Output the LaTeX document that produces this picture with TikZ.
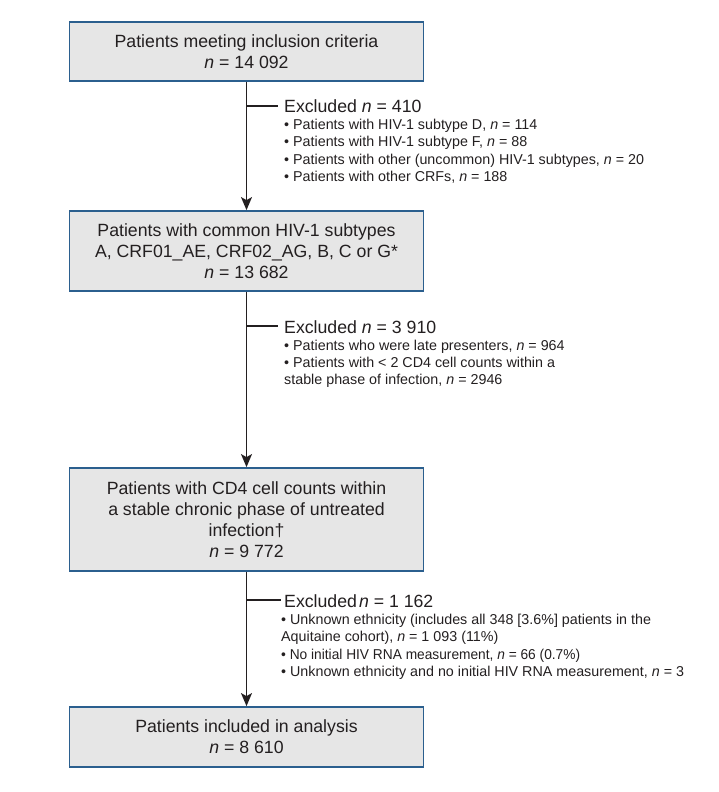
\documentclass[tikz,border=0pt]{standalone}
\usepackage{fontspec}
\usepackage{graphicx}
\setmainfont{Liberation Sans}
\usetikzlibrary{arrows.meta}
\definecolor{boxblue}{HTML}{2B5F8E}
\definecolor{boxfill}{HTML}{E6E6E6}
\definecolor{ink}{HTML}{231F20}
\begin{document}
\begin{tikzpicture}[x=1pt,y=-1pt,
  box/.style={draw=boxblue, line width=1.8pt, fill=boxfill, minimum width=354pt, align=center, inner sep=0pt, text=ink, font=\fontsize{17.7}{21.2}\selectfont},
  head/.style={anchor=base west, inner sep=0pt, text=ink, font=\fontsize{17.7}{21}\selectfont},
  list/.style={anchor=north west, inner sep=0pt, align=left, text=ink, font=\fontsize{14.3}{17.3}\selectfont},
  flow/.style={draw=ink, line width=1.3pt},
  tip/.style={-{Stealth[length=13pt,width=11pt,inset=3pt]}}
]
\useasboundingbox (0,0) rectangle (718,792);
\node[box, minimum height=59pt] (b1) at (246.5,51.5) {Patients meeting inclusion criteria\\\textit{n} = 14~092};
\node[box, minimum height=80pt] (b2) at (246.5,251) {Patients with common HIV-1 subtypes\\A, CRF01\_AE, CRF02\_AG, B, C or G*\\\textit{n} = 13~682};
\node[box, minimum height=103pt] (b3) at (246.5,519.5) {Patients with CD4 cell counts within\\a stable chronic phase of untreated\\infection†\\\textit{n} = 9~772};
\node[box, minimum height=60pt] (b4) at (246.5,737) {Patients included in analysis\\\textit{n} = 8~610};

\node[head] (h1) at (284,112.5) {Excluded \textit{n} = 410};
\node[list] (l1) at (284,119.1) {• Patients with HIV-1 subtype D, \textit{n} = 114\\• Patients with HIV-1 subtype F, \textit{n} = 88\\• Patients with other (uncommon) HIV-1 subtypes, \textit{n} = 20\\• Patients with other CRFs, \textit{n} = 188};

\node[head] (h2) at (284,333.3) {Excluded \textit{n} = 3~910};
\node[list] (l2) at (284,339.6) {• Patients who were late presenters, \textit{n} = 964\\• Patients with < 2 CD4 cell counts within a\\stable phase of infection, \textit{n} = 2946};

\node[head] (h3) at (284,607.3) {Excluded\hspace{2pt}\textit{n} = 1~162};
\node[list] (l3) at (281,614) {• Unknown ethnicity (includes all 348 [3.6\%] patients in the\\Aquitaine cohort), \textit{n} = 1~093 (11\%)\\\scalebox{0.96}[1]{• No initial HIV RNA measurement, \textit{n} = 66 (0.7\%)}\\• Unknown ethnicity and no initial HIV RNA measurement, \textit{n} = 3};

\coordinate (j1) at (246.5,106);
\coordinate (j2) at (246.5,326);
\coordinate (j3) at (246.5,600);

\draw[flow,tip] (b1) -- (b2);
\draw[flow,tip] (b2) -- (b3);
\draw[flow,tip] (b3) -- (b4);
\draw[flow,shorten >=6pt] (j1) -- (j1 -| h1.west);
\draw[flow,shorten >=6pt] (j2) -- (j2 -| h2.west);
\draw[flow,shorten >=3pt] (j3) -- (j3 -| h3.west);
\end{tikzpicture}
\end{document}
